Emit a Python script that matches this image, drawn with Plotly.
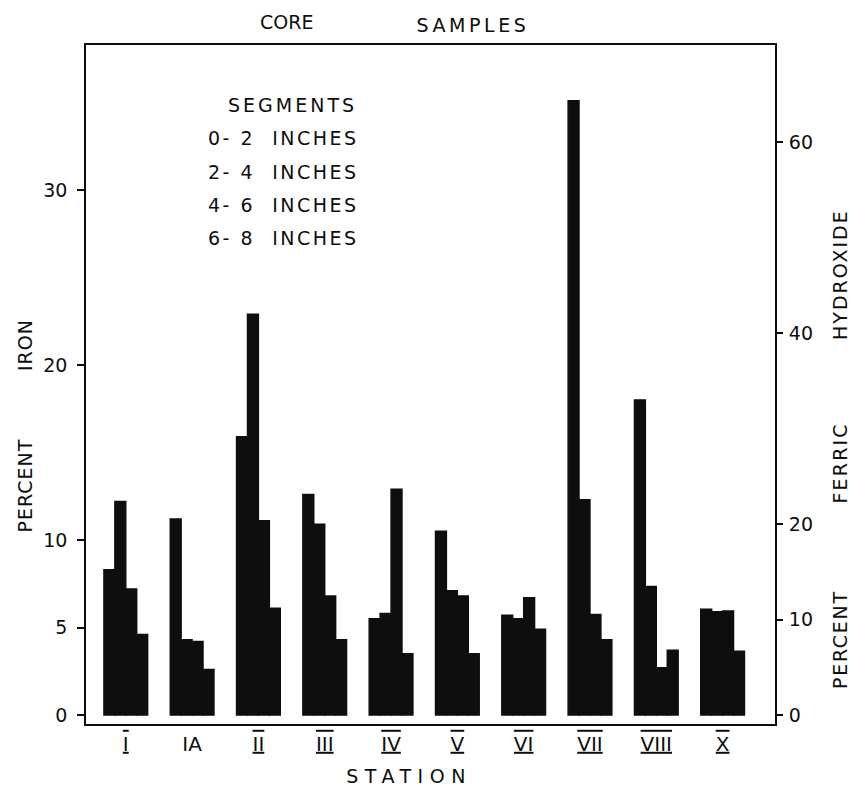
import json
import plotly.graph_objects as go

# Stations along the x axis
stations = ["I", "IA", "II", "III", "IV", "V", "VI", "VII", "VIII", "X"]

# Percent iron in each core segment, per station
seg_0_2 = [8.3, 11.2, 15.9, 12.6, 5.5, 10.5, 5.7, 35.1, 18.0, 6.05]
seg_2_4 = [12.2, 4.3, 22.9, 10.9, 5.8, 7.1, 5.5, 12.3, 7.35, 5.9]
seg_4_6 = [7.2, 4.2, 11.1, 6.8, 12.9, 6.8, 6.7, 5.75, 2.7, 5.95]
seg_6_8 = [4.6, 2.6, 6.1, 4.3, 3.5, 3.5, 4.9, 4.3, 3.7, 3.65]

segment_labels = ["0- 2  INCHES", "2- 4  INCHES", "4- 6  INCHES", "6- 8  INCHES"]

iron_ticks = [0, 5, 10, 20, 30]
hydroxide_ticks = [0, 10, 20, 40, 60]
hydroxide_per_iron = 1.833  # scale of the ferric hydroxide axis against iron

W, H = 855, 787
L, R, T, B = 86, 775, 45, 724   # plot area in pixels

def px(x):
    return (x - L) / (R - L)

def py(y):
    return (B - y) / (B - T)

SANS = "DejaVu Sans"
INK = "#0e0e0e"

fig = go.Figure()
for vals, name in zip([seg_0_2, seg_2_4, seg_4_6, seg_6_8], segment_labels):
    fig.add_trace(go.Bar(
        x=stations, y=vals, name=name,
        marker=dict(color=INK, line=dict(width=1.4, color=INK)),
        showlegend=False,
    ))

# empty trace so the right-hand axis is drawn
fig.add_trace(go.Scatter(x=[], y=[], yaxis="y2", showlegend=False))

y_lo, y_hi = -0.51, 38.29

fig.update_layout(
    width=W, height=H,
    margin=dict(l=L, r=W - R, t=T, b=H - B),
    paper_bgcolor="white", plot_bgcolor="white",
    barmode="group", bargap=0.34, bargroupgap=0.0,
    font=dict(family=SANS, size=19, color=INK),
    xaxis=dict(
        type="category", categoryorder="array", categoryarray=stations,
        range=[-0.60, 9.79],
        tickvals=stations, ticktext=stations,
        tickfont=dict(family=SANS, size=20, color=INK),
        ticks="", showgrid=False, zeroline=False,
        showline=True, linecolor=INK, linewidth=1.6, mirror=True,
        ticklabelstandoff=1,
    ),
    yaxis=dict(
        range=[y_lo, y_hi],
        tickvals=iron_ticks, ticktext=[str(v) for v in iron_ticks],
        ticks="outside", ticklen=7, tickwidth=1.5, tickcolor=INK,
        tickfont=dict(family=SANS, size=19, color=INK),
        showgrid=False, zeroline=False,
        showline=True, linecolor=INK, linewidth=1.6, mirror=True,
        ticklabelstandoff=6,
    ),
    yaxis2=dict(
        overlaying="y", side="right",
        range=[y_lo * hydroxide_per_iron, y_hi * hydroxide_per_iron],
        tickvals=hydroxide_ticks, ticktext=[str(v) for v in hydroxide_ticks],
        ticks="outside", ticklen=7, tickwidth=1.5, tickcolor=INK,
        tickfont=dict(family=SANS, size=19, color=INK),
        showgrid=False, zeroline=False, showline=False,
        ticklabelstandoff=2,
    ),
)

annotations = []
spacing = []   # extra letter spacing (px) for each annotation

def text(t, x, y, size=19, angle=0, track=0.0):
    annotations.append(dict(
        text=t, x=px(x), y=py(y), xref="paper", yref="paper",
        showarrow=False, xanchor="center", yanchor="middle",
        textangle=angle, font=dict(family=SANS, size=size, color=INK),
    ))
    spacing.append(track)

# title
text("CORE", 286, 22)
text("SAMPLES", 473, 25, track=3.6)

# segment key inside the frame
text("SEGMENTS", 292, 105, track=3.0)
for i, lab in enumerate(segment_labels):
    text(lab, 283, [138, 172, 205, 238][i], track=2.5)

# axis titles
text("STATION", 409, 776, track=6.5)
text("IRON", 25, 345, angle=-90, track=1.0)
text("PERCENT", 25, 485, angle=-90, track=1.0)
text("HYDROXIDE", 840, 275, angle=-90, track=2.0)
text("FERRIC", 840, 463, angle=-90, track=2.2)
text("PERCENT", 840, 640, angle=-90, track=1.7)

fig.update_layout(annotations=annotations)

# after drawing: widen the letter spacing of the lettered labels and give
# the station numerals their top and bottom bars
post = """
var gd = document.getElementById('{plot_id}');
var track = %s;
track.forEach(function(s, i) {
    if (!s) return;
    var t = gd.querySelector('g.annotation[data-index="' + i + '"] text.annotation-text');
    if (t) t.style.letterSpacing = s + 'px';
});
gd.querySelectorAll('g.xtick text').forEach(function(t) {
    if (t.textContent !== 'IA') {
        t.style.textDecoration = 'underline overline';
        t.style.textDecorationThickness = '1.6px';
        t.style.textUnderlineOffset = '0.5px';
    }
});
""" % json.dumps(spacing)

fig.write_html("out.html", post_script=post)
